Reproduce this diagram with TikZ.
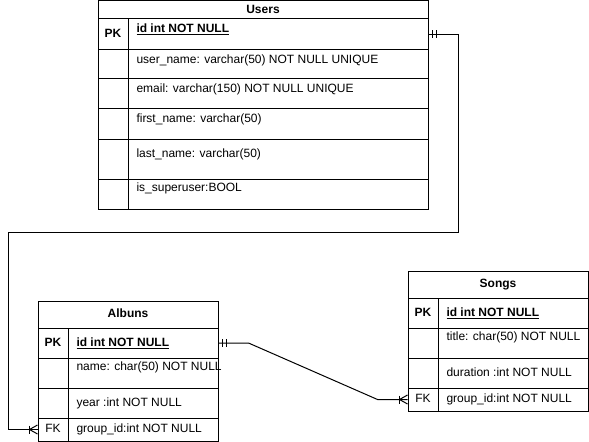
\documentclass[tikz,border=0pt]{standalone}
\usepackage{fontspec}
\setmainfont{Liberation Sans}
\usetikzlibrary{calc}
\usetikzlibrary{fit}
\tikzset{
	cell/.style={draw, inner sep=0pt},
	txt/.style={inner sep=0pt, font=\fontsize{9pt}{11pt}\selectfont, text height=6.5pt, text depth=1.5pt},
	keytxt/.style={txt},
	valtxt/.style={txt, anchor=west},
	titletxt/.style={txt, font=\fontsize{9pt}{11pt}\selectfont\bfseries}
}
\newcommand{\entity}[6] % name, left, right, top, bottom, title
{
	\node[cell, fit={(#2,#4) (#3,#5)}] (#1) {};
	\node[titletxt] (#1-title) at (#1.center) {#6};
}
\newcommand{\field}[8] % name, left, right, top, bottom, key, value, value y
{
	% row box
	\node[cell, fit={(#2,#4) (#3,#5)}] (#1) {};
	% key column
	\draw ({#2+30},#4) -- ({#2+30},#5);
	\node[keytxt] (#1-key) at ({#2+15},{(#4+#5)/2}) {#6};
	% value
	\node[valtxt] (#1-val) at ({#2+38},#8) {#7};
}
\newcommand{\onlyone}[2] % anchor, direction
{
	\draw ($(#1)+(#2*4,-4)$) -- ($(#1)+(#2*4,4)$);
	\draw ($(#1)+(#2*7.5,-4)$) -- ($(#1)+(#2*7.5,4)$);
}
\newcommand{\oneormany}[2] % anchor, direction
{
	\draw ($(#1)+(#2*8,0)$) -- ($(#1)+(0,-4.5)$);
	\draw ($(#1)+(#2*8,0)$) -- ($(#1)+(0,4.5)$);
	\draw ($(#1)+(#2*8,-4)$) -- ($(#1)+(#2*8,4)$);
}
\newcommand{\pkey}[1]{\underline{\textbf{#1}}}

\begin{document}
\begin{tikzpicture}[x=0.75pt, y=-0.75pt, line width=0.75pt]
	\useasboundingbox (0,0) rectangle (589,442);
	% Users
	\entity{users}{98}{428}{1}{19}{Users}
	\field{u-pk}{98}{428}{19}{50}{\textbf{PK}}{\pkey{id int NOT NULL}}{29}
	\field{u-user}{98}{428}{50}{79}{}{user\_name: varchar(50) NOT NULL UNIQUE}{60}
	\field{u-email}{98}{428}{79}{109}{}{email: varchar(150) NOT NULL UNIQUE}{89}
	\field{u-first}{98}{428}{109}{140}{}{first\_name: varchar(50)}{119}
	\field{u-last}{98}{428}{140}{180}{}{last\_name: varchar(50)}{154}
	\field{u-super}{98}{428}{180}{210}{}{is\_superuser:BOOL}{188}
	
	% Albuns
	\entity{albums}{38}{218}{301}{328}{Albuns}
	\field{a-pk}{38}{218}{328}{358}{\textbf{PK}}{\pkey{id int NOT NULL}}{343}
	\field{a-name}{38}{218}{358}{388}{}{name: char(50) NOT NULL}{367}
	\field{a-year}{38}{218}{388}{418}{}{year :int NOT NULL}{403}
	\field{a-fk}{38}{218}{418}{441}{FK}{group\_id:int NOT NULL}{429.5}
	
	% Songs
	\entity{songs}{408}{588}{271}{298}{Songs}
	\field{s-pk}{408}{588}{298}{328}{\textbf{PK}}{\pkey{id int NOT NULL}}{313}
	\field{s-title}{408}{588}{328}{358}{}{title: char(50) NOT NULL}{337}
	\field{s-dur}{408}{588}{358}{388}{}{duration :int NOT NULL}{373}
	\field{s-fk}{408}{588}{388}{411}{FK}{group\_id:int NOT NULL}{399.5}
	
	% relations
	\coordinate (loop) at (8.5,232);
	\draw (u-pk.east) -- ++(30,0) |- (loop) |- (a-fk.west);
	\onlyone{u-pk.east}{1}
	\oneormany{a-fk.west}{-1}
	
	\draw (a-pk.east) -- ++(30,0) -- ($(s-fk.west)+(-30,0)$) -- (s-fk.west);
	\onlyone{a-pk.east}{1}
	\oneormany{s-fk.west}{-1}
\end{tikzpicture}
\end{document}
